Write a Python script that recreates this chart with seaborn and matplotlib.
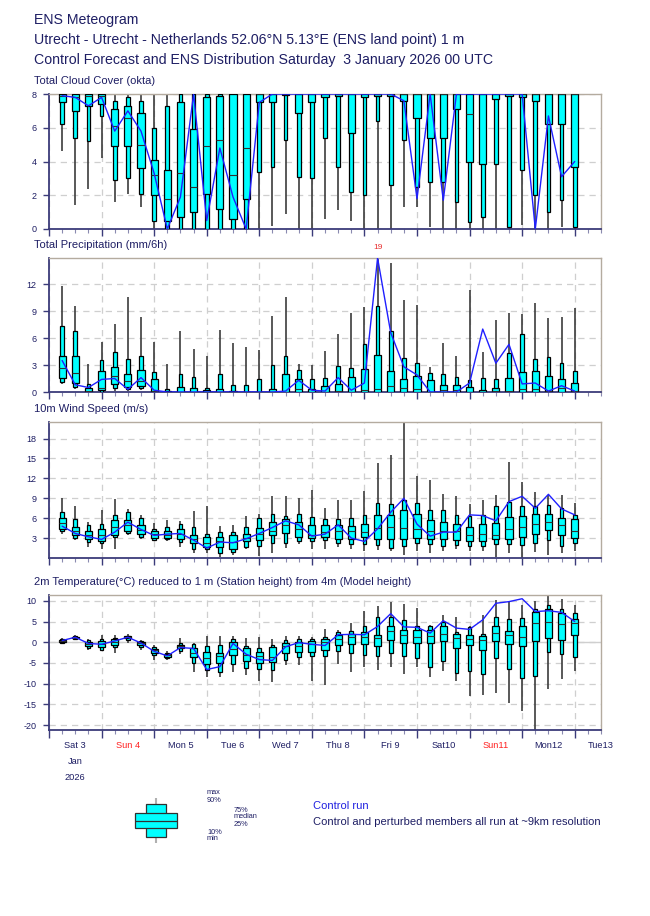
import numpy as np
import matplotlib
matplotlib.use("Agg")
import matplotlib.pyplot as plt
import matplotlib.transforms as mtransforms
from matplotlib.patches import Rectangle
import seaborn as sns

# forecast step in hours after Saturday 3 January 2026 00 UTC
steps = np.arange(6, 241, 6)

# Total cloud cover (okta)
cloud_min = [4.6, 1.4, 2.4, 4.2, 1.6, 2.1, 1.3, 0, 0, 0, 0, 0, 0, 0, 0, 0, 0.2, 0.9, 0, 0,
             0.6, 1.1, 0.5, 0, 0, 0, 1.3, 1.3, 0.1, 0, 0, 0, 0, 0, 0, 0.25, 0, 0, 0.1, 0]
cloud_p10 = [6.2, 5.4, 5.2, 6.7, 2.9, 3.0, 2.1, 0.5, 0, 0, 0, 0, 0, 0, 0, 3.4, 3.7, 5.3, 3.1, 3.0,
             5.4, 3.7, 2.2, 2.0, 6.4, 2.6, 5.3, 2.5, 2.8, 2.8, 1.6, 0.4, 0.7, 3.85, 0.1, 3.5, 2.0, 1.0, 1.7, 0.1]
cloud_p25 = [7.5, 7.0, 7.3, 7.4, 4.9, 4.9, 3.6, 2.0, 0.5, 0.7, 1.0, 2.1, 1.2, 0.6, 1.8, 7.5, 7.5, 7.95, 6.9, 7.5,
             7.8, 7.9, 5.7, 7.8, 7.9, 7.9, 7.6, 6.6, 5.4, 5.4, 7.1, 4.0, 3.85, 7.7, 7.9, 7.85, 7.6, 6.2, 6.2, 3.7]
cloud_med = [7.9, 7.8, 7.9, 7.9, 6.1, 6.6, 5.0, 3.2, 1.8, 3.3, 2.5, 4.9, 5.3, 3.2, 4.8, 8, 8, 8, 8, 8,
             8, 8, 8, 8, 8, 8, 8, 8, 8, 8, 8, 6.8, 8, 8, 8, 8, 8, 8, 8, 8]
cloud_p75 = [8, 8, 8, 8, 7.1, 7.3, 6.9, 4.1, 3.5, 7.5, 5.9, 7.8, 7.9, 8, 8, 8, 8, 8, 8, 8,
             8, 8, 8, 8, 8, 8, 8, 8, 8, 8, 8, 8, 8, 8, 8, 8, 8, 8, 8, 8]
cloud_p90 = [8, 8, 8, 8, 7.6, 7.8, 7.6, 6.0, 7.3, 8, 8, 8, 8, 8, 8, 8, 8, 8, 8, 8,
             8, 8, 8, 8, 8, 8, 8, 8, 8, 8, 8, 8, 8, 8, 8, 8, 8, 8, 8, 8]
cloud_max = [8] * 40
cloud_ctrl = [7.9, 7.8, 7.3, 7.8, 5.8, 7.0, 5.8, 3.3, 0.0, 1.9, 8.0, 0.5, 4.8, 1.9, 0.0, 7.5, 8, 8, 8, 8,
              8, 8, 8, 8, 8, 8, 7.6, 1.8, 8, 1.7, 8, 8, 8, 8, 8, 8, 0.0, 6.7, 3.1, 4.0]

# Total precipitation (mm/6h)
prec_min = [0.9, 0.3, 0, 0, 0.1, 0.1, 0.2] + [0] * 33
prec_p10 = [1.1, 0.6, 0, 0.05, 0.4, 0.3, 0.4] + [0] * 33
prec_p25 = [1.6, 1.0, 0, 0.2, 0.9, 0.6, 0.7] + [0] * 33
prec_med = [2.7, 2.1, 0.1, 0.4, 1.8, 1.2, 1.2, 0.1, 0, 0, 0, 0, 0, 0, 0, 0, 0, 0, 0.3, 0,
            0, 0.1, 0, 0.2, 0.3, 0.7, 0.5, 0.3, 0, 0.2, 0.2, 0.05, 0, 0.1, 0.1, 0.3, 0.3, 0.1, 0.5, 0.1]
prec_p75 = [4.0, 4.0, 0.5, 2.3, 2.8, 2.0, 2.5, 1.4, 0.1, 0.6, 0.5, 0.2, 0.35, 0.1, 0.05, 0, 0.3, 2.0, 1.5, 0.3,
            0.7, 0.9, 1.7, 2.6, 4.1, 2.3, 1.5, 1.8, 1.3, 0.8, 0.8, 0.6, 0.2, 0.4, 1.6, 2.2, 2.3, 1.8, 1.4, 1.0]
prec_p90 = [7.3, 6.8, 0.9, 3.6, 4.4, 3.7, 4.0, 2.2, 0.35, 2.0, 1.7, 0.45, 2.0, 0.8, 0.8, 1.5, 3.0, 4.0, 2.4, 1.4,
            1.6, 2.9, 2.7, 5.3, 9.6, 6.8, 3.8, 3.2, 2.1, 2.0, 1.7, 1.3, 1.6, 1.4, 4.3, 6.4, 3.7, 3.9, 3.2, 2.3]
prec_max = [11.8, 9.6, 3.1, 5.6, 7.6, 10.6, 8.3, 5.6, 3.1, 6.8, 4.8, 4.0, 6.9, 5.5, 5.0, 4.7, 8.4, 10.6, 3.1, 3.0,
            4.6, 6.5, 8.8, 9.4, 19, 14.3, 10.2, 9.7, 2.8, 5.5, 4.0, 11.3, 4.4, 8.0, 8.8, 8.7, 9.9, 8.2, 8.3, 9.3]
prec_ctrl = [3.5, 0.8, 0.5, 1.4, 1.5, 0.3, 1.6, 0.2, 0, 0, 0, 0, 0, 0, 0, 0, 0, 0.1, 1.3, 0.2,
             0.1, 1.6, 0.2, 1.0, 14.9, 6.6, 2.8, 1.9, 0, 0, 0, 1.0, 7.0, 3.2, 5.3, 0.9, 1.0, 0.1, 0.7, 0.1]

# 10m wind speed (m/s)
wind_min = [3.6, 2.7, 1.7, 1.4, 1.3, 3.4, 2.9, 2.5, 2.6, 1.7, 0.8, 0.8, 0.1, 0.5, 1.3, 0.3, 0.8, 1.5, 2.1, 1.4,
            1.3, 1.7, 1.4, 1.1, 1.2, 1.0, 0.4, 1.0, 0.8, 1.1, 1.3, 1.1, 1.1, 0.2, 0.8, 0.0, 0.9, 0.4, 0.8, 1.1]
wind_p10 = [4.0, 3.0, 2.4, 2.2, 3.1, 3.7, 3.2, 2.7, 2.8, 2.4, 1.3, 1.4, 0.8, 0.9, 1.7, 1.8, 2.2, 2.3, 2.6, 2.6,
            2.7, 2.2, 2.1, 2.1, 1.9, 1.5, 1.8, 2.2, 2.1, 1.8, 1.9, 1.8, 1.8, 2.1, 2.1, 1.9, 2.2, 2.7, 1.8, 2.2]
wind_p25 = [4.4, 3.5, 2.8, 2.5, 3.5, 4.0, 3.6, 3.0, 3.0, 2.8, 2.2, 1.7, 1.7, 1.4, 2.6, 2.7, 3.5, 3.7, 3.2, 3.0,
            3.2, 2.9, 2.9, 3.1, 2.9, 2.9, 2.8, 3.0, 2.9, 2.9, 2.7, 2.5, 2.6, 2.8, 2.9, 3.1, 3.6, 4.2, 3.4, 3.0]
wind_med = [5.3, 4.1, 3.4, 3.4, 4.7, 4.9, 4.2, 3.6, 3.5, 3.6, 2.8, 2.3, 2.5, 2.4, 3.0, 3.6, 4.0, 5.0, 4.3, 3.5,
            3.9, 4.0, 4.1, 3.9, 4.5, 4.7, 4.5, 4.4, 4.1, 4.1, 4.0, 3.4, 3.6, 3.5, 4.3, 4.7, 5.1, 5.5, 4.9, 4.1]
wind_p75 = [6.0, 4.7, 4.0, 4.3, 5.7, 5.8, 4.9, 4.0, 4.1, 4.3, 3.4, 3.2, 3.2, 3.4, 3.6, 4.5, 5.5, 5.9, 5.4, 5.0,
            5.0, 5.0, 4.8, 5.1, 6.5, 6.5, 7.3, 6.7, 5.7, 5.4, 5.1, 4.7, 5.1, 5.3, 6.2, 6.4, 6.6, 6.6, 6.1, 5.9]
wind_p90 = [6.9, 5.9, 5.0, 5.2, 6.5, 7.0, 6.0, 4.4, 4.6, 5.1, 4.6, 3.6, 3.9, 3.9, 4.6, 6.0, 6.6, 6.4, 6.7, 6.2,
            5.9, 5.9, 6.0, 6.5, 8.3, 8.2, 8.7, 8.3, 7.2, 7.3, 6.5, 6.4, 6.5, 7.8, 8.5, 7.9, 7.9, 8.0, 7.5, 6.5]
wind_max = [9.0, 7.9, 5.4, 7.3, 8.9, 7.4, 6.5, 5.3, 5.7, 5.6, 7.1, 7.8, 4.8, 4.9, 6.3, 6.6, 9.3, 9.4, 9.1, 10.3,
            7.5, 8.8, 8.8, 10.1, 14.3, 15.6, 20.4, 12.4, 11.7, 9.7, 9.3, 8.2, 8.8, 9.5, 14.5, 11.4, 10.0, 9.5, 9.5, 8.3]
wind_ctrl = [4.8, 3.7, 3.2, 2.8, 3.9, 5.4, 4.3, 3.4, 3.6, 3.7, 2.7, 1.5, 2.4, 2.3, 2.9, 3.7, 4.6, 5.6, 5.0, 3.3,
             3.6, 5.0, 3.0, 2.5, 4.4, 6.9, 9.0, 5.1, 3.3, 3.9, 3.9, 6.5, 6.4, 5.6, 8.5, 9.3, 7.5, 9.6, 7.4, 6.5]

# 2m temperature (deg C)
temp_min = [-0.4, 0.5, -2.0, -2.0, -2.7, -0.1, -1.8, -4.3, -4.2, -2.8, -7.1, -8.4, -8.4, -7.1, -7.8, -9.4, -9.5, -5.6, -5.6, -9.4,
            -10.3, -5.3, -7.1, -6.0, -6.6, -6.0, -7.6, -6.0, -8.5, -6.9, -9.4, -13.0, -12.7, -12.2, -14.8, -16.7, -21.5, -11.4, -9.0, -7.0]
temp_p10 = [-0.2, 0.7, -1.4, -1.8, -1.2, 0.5, -1.2, -3.0, -3.8, -2.2, -4.9, -6.7, -7.2, -5.2, -6.2, -6.5, -6.7, -4.2, -3.6, -3.3,
            -3.3, -2.1, -2.7, -3.0, -3.3, -2.5, -3.3, -3.8, -5.9, -4.6, -7.5, -7.0, -7.7, -3.7, -6.5, -8.6, -8.1, -2.3, -2.9, -3.5]
temp_p25 = [0.1, 0.9, -1.0, -1.1, -0.7, 0.9, -0.7, -2.5, -3.5, -1.5, -3.5, -5.2, -5.1, -3.2, -4.6, -5.1, -4.7, -2.5, -2.4, -2.3,
            -2.0, -0.6, -0.5, -0.5, -0.9, 0.5, -0.2, -0.2, -0.2, 0.4, -1.3, -0.7, -1.9, 0.2, -0.5, -0.8, 0.4, 1.0, 0.5, 1.8]
temp_med = [0.4, 1.1, -0.4, -0.5, 0.1, 1.2, -0.3, -2.0, -3.1, -1.0, -2.6, -3.9, -3.4, -1.6, -3.0, -3.4, -3.6, -0.9, -0.9, -0.4,
            0.1, 0.8, 1.3, 1.3, 1.0, 2.7, 1.8, 1.3, 1.5, 2.0, 1.0, 0.7, 0.5, 2.2, 1.8, 1.3, 4.6, 4.9, 4.5, 4.6]
temp_p75 = [0.6, 1.3, 0.1, 0.2, 0.7, 1.4, 0.1, -1.6, -2.8, -0.6, -1.4, -2.3, -2.5, 0.1, -1.4, -2.3, -1.1, -0.2, 0.1, 0.2,
            0.7, 1.7, 2.0, 2.4, 1.8, 3.9, 3.0, 3.0, 2.9, 4.0, 2.0, 1.7, 1.5, 3.9, 2.6, 3.8, 7.2, 7.9, 7.0, 5.5]
temp_p90 = [0.8, 1.5, 0.5, 0.8, 1.1, 1.6, 0.3, -1.1, -2.6, -0.3, -0.4, -0.8, -0.7, 0.7, -0.8, -1.5, -0.7, 0.6, 0.8, 0.8,
            1.2, 2.5, 2.8, 3.8, 6.0, 6.0, 5.3, 3.8, 3.8, 5.0, 2.4, 3.7, 1.9, 6.0, 5.5, 5.8, 7.9, 9.1, 7.9, 7.0]
temp_max = [1.1, 1.7, 0.8, 1.8, 1.8, 1.9, 0.6, -0.6, -2.2, 0.9, -0.1, 1.4, 1.4, 1.5, 1.0, 1.2, 0.7, 1.4, 1.5, 1.2,
            3.1, 3.0, 4.6, 7.6, 8.8, 9.6, 9.2, 8.3, 4.1, 6.6, 6.2, 3.9, 6.6, 10.3, 9.8, 9.0, 10.0, 11.1, 10.4, 9.0]
temp_ctrl = [0.4, 1.2, -0.3, -0.5, 0.3, 1.2, -0.2, -2.2, -3.3, -1.3, -1.5, -6.6, -5.9, -0.3, -2.9, -4.2, -4.4, -1.1, -0.1, -0.5,
             -0.8, 1.8, 1.9, 1.8, 3.8, 6.9, 3.7, 3.6, 2.2, 5.2, 3.4, 3.1, 5.4, 9.4, 9.8, 10.5, 7.4, 7.6, 7.2, 5.0]

day_labels = ["Sat 3", "Sun 4", "Mon 5", "Tue 6", "Wed 7", "Thu 8", "Fri 9", "Sat10", "Sun11", "Mon12", "Tue13"]

NAVY = "#1e1e64"
CYAN = "#00ffff"
BLUE = "#1f1fff"
GRID = "#cfcfcf"

sns.set_style("white")
plt.rcParams["font.family"] = ["Liberation Sans", "DejaVu Sans"]
plt.rcParams["axes.unicode_minus"] = False

fig = plt.figure(figsize=(6.5, 9.16), dpi=100)


def px_axes(top, bottom, left=49, right=601):
    return fig.add_axes([left / 650, 1 - bottom / 916, (right - left) / 650, (bottom - top) / 916])


def meteo_panel(ax, lo, p10, p25, med, p75, p90, hi, ctrl, ylim, yticks, title):
    lo, p10, p25, med, p75, p90, hi = [np.asarray(v, float) for v in (lo, p10, p25, med, p75, p90, hi)]
    wide, narrow = 3.3, 1.7
    ax.vlines(steps, lo, hi, color="#3c3c3c", lw=1.2, zorder=2)
    ax.bar(steps, p90 - p10, bottom=p10, width=narrow, color=CYAN, edgecolor="black", linewidth=0.9, zorder=3)
    ax.bar(steps, p75 - p25, bottom=p25, width=wide, color=CYAN, edgecolor="black", linewidth=0.9, zorder=4)
    ax.hlines(med, steps - wide / 2, steps + wide / 2, color="#303030", lw=0.8, zorder=5)
    sns.lineplot(x=steps, y=ctrl, ax=ax, color=BLUE, linewidth=1, zorder=6, legend=False)

    ax.set_xlim(0, 252)
    ax.set_ylim(*ylim)
    ax.set_yticks(yticks)
    ax.set_yticklabels([f"{t:g}" for t in yticks])
    ax.set_xticks(np.arange(0, 241, 24))
    ax.set_xticks(np.arange(0, 253, 6), minor=True)
    ax.set_xticklabels([])
    ax.set_xlabel("")
    ax.set_ylabel("")
    ax.grid(True, which="major", ls=(0, (5, 4)), color=GRID, lw=0.9)
    ax.set_axisbelow(True)
    for s in ("top", "right"):
        ax.spines[s].set_color("#b4ab9f")
        ax.spines[s].set_linewidth(1)
    for s in ("left", "bottom"):
        ax.spines[s].set_color("#3b3b7a")
        ax.spines[s].set_linewidth(1.3)
    ax.tick_params(axis="y", direction="out", length=4, width=1, color="#3b3b7a",
                   labelsize=6.5, labelcolor=NAVY, pad=5, left=True)
    ax.tick_params(axis="x", which="major", direction="out", length=5, width=1, color="#3b3b7a", bottom=True)
    ax.tick_params(axis="x", which="minor", direction="out", length=3, width=0.8, color="#8a8ab0", bottom=True)
    ax.text(-15 / 552, 1 + 13 / 135, title, transform=ax.transAxes, fontsize=8,
            color=NAVY, va="center", ha="left")
    # values beyond the top of the scale are written above the panel
    for t, v in zip(steps, hi):
        if v > ylim[1]:
            ax.text(t, ylim[1] + (ylim[1] - ylim[0]) * 0.08, f"{v:.0f}", color="#e83030",
                    fontsize=6, ha="center", va="center", clip_on=False)


ax_cloud = px_axes(94, 229)
meteo_panel(ax_cloud, cloud_min, cloud_p10, cloud_p25, cloud_med, cloud_p75, cloud_p90, cloud_max, cloud_ctrl,
            (0, 8), [0, 2, 4, 6, 8], "Total Cloud Cover (okta)")

ax_prec = px_axes(258, 392)
meteo_panel(ax_prec, prec_min, prec_p10, prec_p25, prec_med, prec_p75, prec_p90, prec_max, prec_ctrl,
            (0, 14.9), [0, 3, 6, 9, 12], "Total Precipitation (mm/6h)")

ax_wind = px_axes(422, 558)
meteo_panel(ax_wind, wind_min, wind_p10, wind_p25, wind_med, wind_p75, wind_p90, wind_max, wind_ctrl,
            (0, 20.5), [3, 6, 9, 12, 15, 18], "10m Wind Speed (m/s)")

ax_temp = px_axes(595, 730)
meteo_panel(ax_temp, temp_min, temp_p10, temp_p25, temp_med, temp_p75, temp_p90, temp_max, temp_ctrl,
            (-21.2, 11.4), [-20, -15, -10, -5, 0, 5, 10],
            "2m Temperature(\u00b0C) reduced to 1 m (Station height) from 4m (Model height)")
ax_temp.axhline(0, color=GRID, lw=1, zorder=1)
ax_temp.tick_params(axis="x", which="major", length=6)

# day names under the bottom panel
trans = mtransforms.blended_transform_factory(ax_temp.transData, ax_temp.transAxes)
for i, lab in enumerate(day_labels):
    col = "#ff2020" if lab.startswith("Sun") else NAVY
    ax_temp.text(12 + 24 * i, -15 / 135, lab, transform=trans, ha="center", va="center",
                 fontsize=6.7, color=col, clip_on=False)
ax_temp.text(12, -32 / 135, "Jan", transform=trans, ha="center", va="center", fontsize=6.7, color=NAVY)
ax_temp.text(12, -48 / 135, "2026", transform=trans, ha="center", va="center", fontsize=6.7, color=NAVY)

# header
fig.text(34 / 650, 1 - 20 / 916, "ENS Meteogram", fontsize=10.2, color=NAVY, va="center")
fig.text(34 / 650, 1 - 40 / 916,
         "Utrecht - Utrecht - Netherlands 52.06\u00b0N 5.13\u00b0E (ENS land point) 1 m",
         fontsize=10.2, color=NAVY, va="center")
fig.text(34 / 650, 1 - 60 / 916,
         "Control Forecast and ENS Distribution Saturday  3 January 2026 00 UTC",
         fontsize=10.2, color=NAVY, va="center")

# key at the bottom, drawn in pixel coordinates
ax_key = fig.add_axes([0, 0, 1, 1])
ax_key.set_xlim(0, 650)
ax_key.set_ylim(916, 0)
ax_key.axis("off")
ax_key.vlines(155.7, 798, 843, color="#b0b0b0", lw=1.5, zorder=1)
ax_key.add_patch(Rectangle((145.7, 804), 20, 33, facecolor=CYAN, edgecolor="#303030", lw=0.9, zorder=2))
ax_key.add_patch(Rectangle((135, 813), 42, 15, facecolor=CYAN, edgecolor="#303030", lw=0.9, zorder=3))
ax_key.hlines(820.5, 135, 177, color="#303030", lw=0.9, zorder=4)
for txt, x, y in [("max", 207, 793), ("90%", 207, 800), ("75%", 234, 810), ("median", 234, 817),
                  ("25%", 234, 824), ("10%", 207, 832), ("min", 207, 839)]:
    ax_key.text(x, y, txt, fontsize=5.3, color=NAVY, va="center", ha="left")
ax_key.text(313, 806, "Control run", fontsize=8, color="#2020e0", va="center", ha="left")
ax_key.text(313, 822, "Control and perturbed members all run at ~9km resolution", fontsize=8,
            color=NAVY, va="center", ha="left")

fig.savefig("out.png", dpi=100)
